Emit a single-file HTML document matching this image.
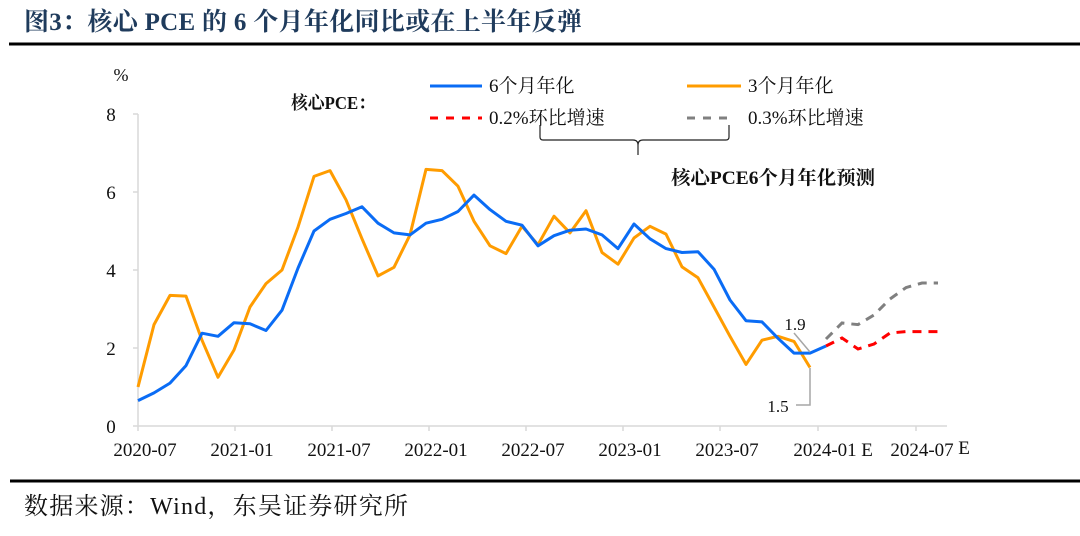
<!DOCTYPE html>
<html><head><meta charset="utf-8"><style>
body{margin:0;background:#fff}
svg{display:block}
text{font-family:"Liberation Serif","Noto Serif CJK SC",serif}
</style></head><body>
<svg width="1080" height="536" viewBox="0 0 1080 536" xmlns="http://www.w3.org/2000/svg">
<text x="24" y="30" font-size="25" font-weight="bold" fill="#1f3b5c" textLength="558" lengthAdjust="spacing">图3：核心 PCE 的 6 个月年化同比或在上半年反弹</text>
<line x1="9" y1="44" x2="1080" y2="44" stroke="#000" stroke-width="3"/>
<line x1="10" y1="481" x2="1080" y2="481" stroke="#000" stroke-width="3"/>
<text x="24" y="514" font-size="24" fill="#111" textLength="384" lengthAdjust="spacing">数据来源：Wind，东吴证券研究所</text>

<!-- axes -->
<line x1="138" y1="114" x2="138" y2="426" stroke="#d9d9d9" stroke-width="1.5"/>
<line x1="133" y1="426" x2="947" y2="426" stroke="#d9d9d9" stroke-width="1.5"/>
<g stroke="#d9d9d9" stroke-width="1.5">
<line x1="133" y1="114" x2="138" y2="114"/><line x1="133" y1="192" x2="138" y2="192"/><line x1="133" y1="270" x2="138" y2="270"/><line x1="133" y1="348" x2="138" y2="348"/>
<line x1="138" y1="426" x2="138" y2="431"/><line x1="235" y1="426" x2="235" y2="431"/><line x1="332" y1="426" x2="332" y2="431"/><line x1="429" y1="426" x2="429" y2="431"/><line x1="526" y1="426" x2="526" y2="431"/><line x1="623" y1="426" x2="623" y2="431"/><line x1="720" y1="426" x2="720" y2="431"/><line x1="818" y1="426" x2="818" y2="431"/><line x1="916" y1="426" x2="916" y2="431"/>
</g>
<g font-size="19" fill="#111" text-anchor="middle">
<text x="121" y="81" font-size="18">%</text>
<text x="111" y="121">8</text><text x="111" y="199">6</text><text x="111" y="277">4</text><text x="111" y="355">2</text><text x="111" y="433">0</text>
<text x="145" y="456">2020-07</text><text x="242" y="456">2021-01</text><text x="339" y="456">2021-07</text><text x="436" y="456">2022-01</text><text x="533" y="456">2022-07</text><text x="630" y="456">2023-01</text><text x="727" y="456">2023-07</text><text x="825" y="456">2024-01</text><text x="867" y="456">E</text><text x="922" y="456">2024-07</text><text x="964" y="454">E</text>
</g>

<!-- series -->
<polyline fill="none" stroke="#ff9c00" stroke-width="3" stroke-linejoin="round" points="138,387 154,324.6 170,295.4 186,296.1 202,340.2 218,377.3 234,350 250,307 266,283.6 282,270 298,227.1 314,176.4 330,170.6 346,199.8 362,238.8 378,275.9 394,267.3 410,234.9 426,169.4 442,170.6 458,186.2 474,221.3 490,245.8 506,253.6 522,226.3 538,244.7 554,216.2 570,232.9 586,210.7 602,252.5 618,264.2 634,238 650,226.3 666,234.1 682,266.9 698,277.8 714,307 730,336.3 746,364.4 762,340.2 778,336.3 794,341.4 810,367.5"/>
<polyline fill="none" stroke="#0a6cf5" stroke-width="3" stroke-linejoin="round" points="138,400.6 154,392.9 170,383.1 186,365.6 202,333.2 218,336.3 234,322.7 250,323.8 266,330.5 282,310.2 298,268.1 314,231 330,219.3 346,213.5 362,206.8 378,223.2 394,232.9 410,234.9 426,223.2 442,219.3 458,211.5 474,195.1 490,209.6 506,221.3 522,225.2 538,245.8 554,235.7 570,230.2 586,229 602,234.9 618,248.6 634,224 650,238.8 666,248.6 682,252.5 698,251.7 714,269.2 730,300 746,320.7 762,321.9 778,338.3 794,353.1 810,353.1 826,346"/>
<polyline fill="none" stroke="#808080" stroke-width="3" stroke-dasharray="9,7" points="826,339 842,323 858,324.6 874,315 890,299 906,287.6 922,283 938,283"/>
<polyline fill="none" stroke="#ff0000" stroke-width="3" stroke-dasharray="9,7" points="826,346 842,338 858,349 874,344 890,333 906,331.6 922,331.6 938,331.6"/>

<!-- annotations -->
<text x="795" y="330" font-size="17" fill="#111" text-anchor="middle">1.9</text>
<line x1="794" y1="333" x2="810" y2="352" stroke="#a6a6a6" stroke-width="1.5"/>
<text x="778" y="412" font-size="17" fill="#111" text-anchor="middle">1.5</text>
<polyline fill="none" stroke="#a6a6a6" stroke-width="1.5" points="796,405 810,405 810,368"/>

<!-- legend -->
<text x="291" y="109" font-size="18" font-weight="bold" fill="#111" textLength="84" lengthAdjust="spacingAndGlyphs">核心PCE：</text>
<line x1="430" y1="86" x2="482" y2="86" stroke="#0a6cf5" stroke-width="3"/>
<text x="489" y="92" font-size="19" fill="#111">6个月年化</text>
<line x1="687" y1="86" x2="741" y2="86" stroke="#ff9c00" stroke-width="3"/>
<text x="748" y="92" font-size="19" fill="#111">3个月年化</text>
<line x1="430" y1="118" x2="482" y2="118" stroke="#ff0000" stroke-width="3" stroke-dasharray="8,8"/>
<text x="489" y="124" font-size="19" fill="#111">0.2%环比增速</text>
<line x1="687" y1="118" x2="733" y2="118" stroke="#808080" stroke-width="3" stroke-dasharray="8,8"/>
<text x="748" y="124" font-size="19" fill="#111">0.3%环比增速</text>
<path d="M540,125 V137 Q540,140 543,140 H633 Q638,140 638,145 V155 M638,145 Q638,140 643,140 H726 Q729,140 729,137 V125" fill="none" stroke="#222" stroke-width="1.2"/>
<text x="671" y="184" font-size="19" font-weight="bold" fill="#111" textLength="204" lengthAdjust="spacingAndGlyphs">核心PCE6个月年化预测</text>
</svg>
</body></html>
